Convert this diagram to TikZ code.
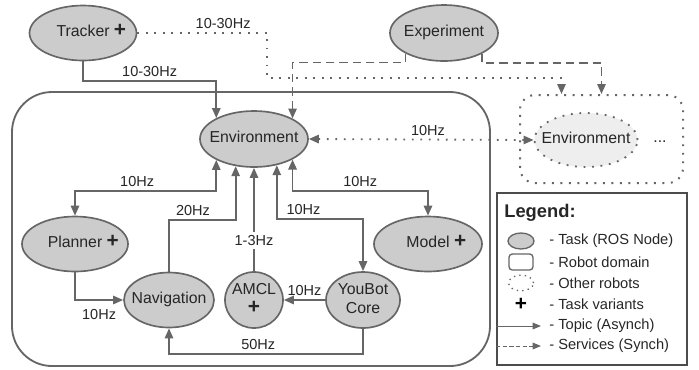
\documentclass[tikz,border=0pt]{standalone}
\usepackage{fontspec}
\setmainfont{Liberation Sans}
\usetikzlibrary{arrows.meta,shapes.geometric}
\definecolor{linegray}{HTML}{666666}
\definecolor{taskgray}{HTML}{CCCCCC}
\definecolor{othergray}{HTML}{EEEEEE}
\newcommand{\varplus}{{\fontsize{12.5}{12.5}\selectfont\bfseries +}}
% text that does not widen the ellipse
\newcommand{\tasktext}[1]{\makebox[0pt]{\begin{tabular}{@{}c@{}}#1\end{tabular}}}
\tikzset{
  task/.style={ellipse, draw=linegray, fill=taskgray, line width=1pt, inner sep=0pt,
    font=\fontsize{9.5}{11.5}\selectfont, text=black!85},
  topic/.style={draw=linegray, line width=1.1pt},
  synch/.style={topic, dash pattern=on 5pt off 3pt},
  dots/.style={topic, dash pattern=on 1.1pt off 4pt},
  hz/.style={font=\fontsize{8.7}{10}\selectfont, text=black!85, inner sep=2pt},
  legtext/.style={anchor=west, font=\fontsize{8.8}{10}\selectfont, text=black!85, inner sep=0pt},
  >={Triangle[width=5pt,length=6pt]}
}
\begin{document}
\begin{tikzpicture}[x=0.6pt,y=-0.6pt]
  \useasboundingbox (0,0) rectangle (699,369);

  % Robot domain and the other robots
  \node[draw=linegray, line width=1.1pt, rounded corners=24pt, minimum width=286.8pt, minimum height=164.4pt] (robot) at (251,229) {};
  \node[dots, line width=1.2pt, rounded corners=9pt, minimum width=97.8pt, minimum height=52.8pt] (others) at (601.5,139) {};

  % Tasks
  \node[task, minimum width=64.2pt, minimum height=33pt] (trk) at (83,33) {\tasktext{\hspace*{10pt}Tracker \varplus}};
  \node[task, minimum width=64.8pt, minimum height=33.6pt] (exp) at (444,33) {\tasktext{Experiment}};
  \node[task, minimum width=64.8pt, minimum height=33.6pt] (env) at (254,139) {\tasktext{Environment}};
  \node[task, dots, fill=othergray, minimum width=61.8pt, minimum height=32.4pt] (oenv) at (586,140) {\tasktext{Environment}};
  \node[font=\fontsize{9.5}{11.5}\selectfont, text=black!85] (more) at (660,142) {...};
  \node[task, minimum width=63.6pt, minimum height=33pt] (pln) at (75,244) {\tasktext{\hspace*{10pt}Planner \varplus}};
  \node[task, minimum width=64.8pt, minimum height=33pt] (mdl) at (428,244) {\tasktext{\hspace*{10pt}Model \varplus}};
  \node[task, minimum width=54pt, minimum height=33pt] (nav) at (169,300) {\tasktext{Navigation}};
  \node[task, minimum width=34.8pt, minimum height=33.6pt] (amcl) at (254,300) {\tasktext{AMCL\\\varplus}};
  \node[task, minimum width=44.4pt, minimum height=33.6pt] (ybc) at (363,300) {\tasktext{YouBot\\Core}};

  % Topics
  \draw[topic,->] (trk.south) -- ++(0,20) -| node[hz, pos=0.25, above] {10-30Hz} (env.151);
  \draw[topic,<->] (env.209) -- (env.209 |- 0,191) -| node[hz, pos=0.28, above] {10Hz} (pln.north);
  \draw[topic,<->] (env.332) -- (env.332 |- 0,191) -| node[hz, pos=0.25, above] {10Hz} (mdl.north);
  \draw[topic,->] (nav.north) -- (nav.north |- 0,220) -| node[hz, pos=0.18, above] {20Hz} (env.236);
  \draw[topic,->] (amcl.north) -- node[hz, pos=0.3, fill=white] {1-3Hz} (env.south);
  \draw[topic,<->] (env.311) -- (env.311 |- 0,219) -| node[hz, pos=0.155, above] {10Hz} (ybc.north);
  \draw[topic,->] (pln.south) |- node[hz, pos=0.75, below=3pt] {10Hz} (nav.west);
  \draw[topic,->] (ybc.west) -- node[hz, above] {10Hz} (amcl.east);
  \draw[topic,->] (ybc.south) -- ++(0,25) -| node[hz, pos=0.27, above] {50Hz} (nav.south);

  % Links to the other robots
  \draw[dots,->] (trk.east) -- node[hz, pos=0.66, above] {10-30Hz} ++(130,0) -- ++(0,45) -| ([xshift=-24pt]others.north);
  \draw[dots,<->] (env.east) -- node[hz, pos=0.53, above] {10Hz} (oenv.west);

  % Services
  \draw[synch,->] (exp.208) -- ++(0,9) -| (env.28);
  \draw[synch,->] (exp.331) -- ++(0,9) -| (others.north);

  % Legend
  \node[draw=black!70, line width=0.9pt, minimum width=114pt, minimum height=103.2pt] (leg) at (592,279) {};
  \node[anchor=west, inner sep=0pt, font=\bfseries\fontsize{11}{13}\selectfont, text=black!85] (legtitle) at (504,213) {Legend:};
  \node[task, line width=0.8pt, minimum width=15.6pt, minimum height=9.6pt] (legtask) at (521,241) {};
  \node[draw=linegray, line width=0.8pt, rounded corners=2pt, minimum width=14.4pt, minimum height=9.6pt] (legdom) at (521,262) {};
  \node[ellipse, draw=linegray, line width=0.8pt, dash pattern=on 0.8pt off 2.5pt, minimum width=15pt, minimum height=8pt] (legoth) at (521,283) {};
  \node[inner sep=0pt] (legvar) at (521,304) {\varplus};
  \coordinate (legta) at (496,326);
  \coordinate (legtb) at (541,326);
  \coordinate (legsa) at (496,346);
  \coordinate (legsb) at (541,346);
  \draw[draw=linegray, line width=0.6pt, -{Triangle[width=4pt,length=5pt]}] (legta) -- (legtb);
  \draw[draw=linegray, line width=0.6pt, dash pattern=on 2.5pt off 1.5pt, -{Triangle[width=4pt,length=5pt]}] (legsa) -- (legsb);
  \node[legtext] (legl1) at (549,241) {- Task (ROS Node)};
  \node[legtext] (legl2) at (549,262) {- Robot domain};
  \node[legtext] (legl3) at (549,283) {- Other robots};
  \node[legtext] (legl4) at (549,304) {- Task variants};
  \node[legtext] (legl5) at (549,326) {- Topic (Asynch)};
  \node[legtext] (legl6) at (549,346) {- Services (Synch)};
\end{tikzpicture}
\end{document}
